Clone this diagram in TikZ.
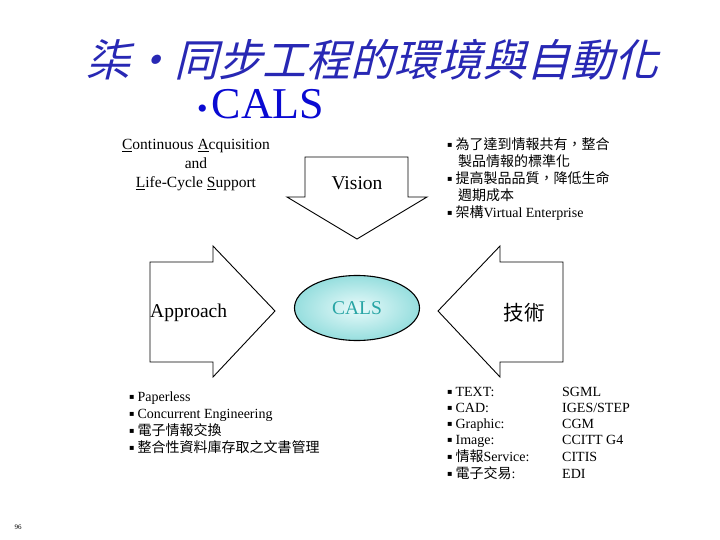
\documentclass[tikz,border=0pt]{standalone}
\usepackage{fontspec}
\setmainfont{Liberation Serif}
\newfontfamily\cjk{Noto Sans CJK TC}
\newfontfamily\cjkslant[FakeSlant=0.25]{Noto Sans CJK TC}
\newfontfamily\dejavu{DejaVu Sans}
\usetikzlibrary{shapes.geometric}
\definecolor{titleblue}{RGB}{40,40,180}
\definecolor{calsblue}{RGB}{10,10,210}
\definecolor{tealtxt}{RGB}{40,165,165}
\definecolor{cyanin}{RGB}{232,250,250}
\definecolor{cyanout}{RGB}{150,222,222}
\newcommand{\bulsq}{\raisebox{2.2pt}{\dejavu\fontsize{8}{8}\selectfont ▪}\hspace{3pt}}
\begin{document}
\begin{tikzpicture}[x=1pt,y=-1pt,
  arrowshape/.style={draw=black, line width=0.9pt, fill=white, line join=miter},
  txt/.style={inner sep=0pt, anchor=west, text height=10pt, text depth=3pt, font=\fontsize{14}{15}\selectfont},
  ctxt/.style={inner sep=0pt, text height=11pt, text depth=3pt, font=\fontsize{15.5}{17}\selectfont},
  big/.style={inner sep=0pt, font=\fontsize{19.5}{21}\selectfont}
]
\useasboundingbox[fill=white] (0,0) rectangle (720,540);

% title
\node[inner sep=0pt, text=titleblue, font=\fontsize{44}{48}\selectfont\cjkslant] (title) at (372,60) {柒・同步工程的環境與自動化};
\node[inner sep=0pt, anchor=west, text=calsblue, font=\fontsize{44}{48}\selectfont] (subtitle) at (197,104) {{\fontsize{30}{30}\selectfont •}\hspace{4pt}CALS};

% left top text
\node[ctxt] (ca1) at (196,146) {\underline{C}ontinuous \underline{A}cquisition};
\node[ctxt] (ca2) at (196,165) {and};
\node[ctxt] (ca3) at (196,184) {\underline{L}ife-Cycle \underline{S}upport};

% arrows
\draw[arrowshape] (305,157) -- (408,157) -- (408,197) -- (427,197) -- (357,239) -- (287,197) -- (305,197) -- cycle;
\draw[arrowshape] (150,262) -- (213,262) -- (213,246) -- (275,311) -- (213,377) -- (213,362) -- (150,362) -- cycle;
\draw[arrowshape] (563,262) -- (500,262) -- (500,246) -- (438,311) -- (500,377) -- (500,362) -- (563,362) -- cycle;

\node[big] (vision) at (357,183) {Vision};
\node[big, anchor=west] (approach) at (150,313) {Approach};
\node[inner sep=0pt, font=\fontsize{20.5}{22}\selectfont\cjk] (tech) at (524,313) {技術};

% center ellipse
\node[ellipse, draw=black, line width=1.1pt, inner color=cyanin, outer color=cyanout,
      minimum width=125pt, minimum height=65pt, text=tealtxt,
      font=\fontsize{19.5}{21}\selectfont] (cals) at (357,308) {CALS};

% top right bullets
\node[txt] (v1) at (447,146) {\bulsq{\cjk 為了達到情報共有，整合}};
\node[txt] (v2) at (458,163) {{\cjk 製品情報的標準化}};
\node[txt] (v3) at (447,180) {\bulsq{\cjk 提高製品品質，降低生命}};
\node[txt] (v4) at (458,197) {{\cjk 週期成本}};
\node[txt] (v5) at (447,214) {\bulsq{\cjk 架構}Virtual Enterprise};

% bottom left bullets
\node[txt] (a1) at (129,398) {\bulsq Paperless};
\node[txt] (a2) at (129,415) {\bulsq Concurrent Engineering};
\node[txt] (a3) at (129,432) {\bulsq{\cjk 電子情報交換}};
\node[txt] (a4) at (129,449) {\bulsq{\cjk 整合性資料庫存取之文書管理}};

% bottom right bullets
\node[txt] (t1) at (447,393) {\bulsq TEXT:};
\node[txt] (t2) at (447,409) {\bulsq CAD:};
\node[txt] (t3) at (447,425) {\bulsq Graphic:};
\node[txt] (t4) at (447,441) {\bulsq Image:};
\node[txt] (t5) at (447,458) {\bulsq{\cjk 情報}Service:};
\node[txt] (t6) at (447,475) {\bulsq{\cjk 電子交易}:};
\node[txt] (s1) at (562,393) {SGML};
\node[txt] (s2) at (562,409) {IGES/STEP};
\node[txt] (s3) at (562,425) {CGM};
\node[txt] (s4) at (562,441) {CCITT G4};
\node[txt] (s5) at (562,458) {CITIS};
\node[txt] (s6) at (562,475) {EDI};

% page number
\node[inner sep=0pt, font=\fontsize{7}{8}\selectfont] (pg) at (18,527) {96};
\end{tikzpicture}
\end{document}
